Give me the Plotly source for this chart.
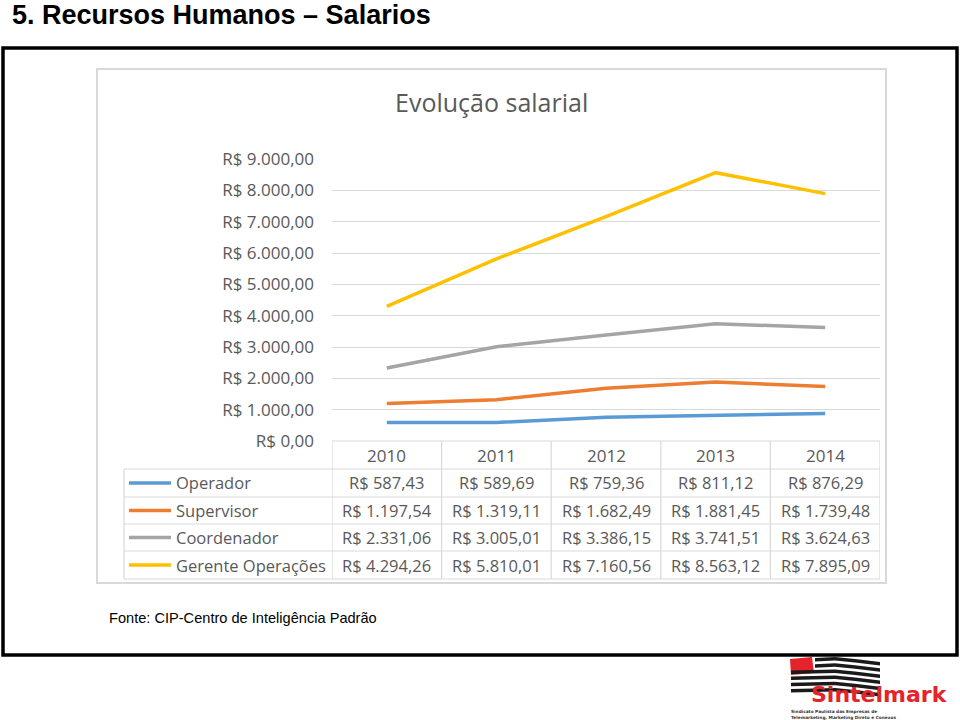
import plotly.graph_objects as go

# ---------------- data ----------------
years = ["2010", "2011", "2012", "2013", "2014"]
series_names = ["Operador", "Supervisor", "Coordenador", "Gerente Operações"]
operador = [587.43, 589.69, 759.36, 811.12, 876.29]
supervisor = [1197.54, 1319.11, 1682.49, 1881.45, 1739.48]
coordenador = [2331.06, 3005.01, 3386.15, 3741.51, 3624.63]
gerente = [4294.26, 5810.01, 7160.56, 8563.12, 7895.09]
series_values = [operador, supervisor, coordenador, gerente]
series_colors = ["#5B9BD5", "#ED7D31", "#A5A5A5", "#FFC000"]
y_ticks = [0, 1000, 2000, 3000, 4000, 5000, 6000, 7000, 8000, 9000]

W, H = 960, 720


def px(x):
    return x / W


def py(y):
    return 1 - y / H


def brl(v):
    s = f"{v:,.2f}"
    s = s.replace(",", "X").replace(".", ",").replace("X", ".")
    return "R$ " + s


GRAY_TXT = "#595959"
GRID = "#d9d9d9"
FONT = "Open Sans"

fig = go.Figure()
for name, vals, col in zip(series_names, series_values, series_colors):
    fig.add_trace(go.Scatter(x=years, y=vals, mode="lines", name=name,
                             line=dict(color=col, width=3.5),
                             showlegend=False, hoverinfo="skip"))

plot_left, plot_right = 332, 880
plot_top, plot_bottom = 159, 441

fig.update_layout(
    template="none",
    width=W, height=H, autosize=False,
    margin=dict(l=0, r=0, t=0, b=0, pad=0, autoexpand=False),
    paper_bgcolor="white", plot_bgcolor="white",
    xaxis=dict(domain=[px(plot_left), px(plot_right)], type="category",
               range=[-0.5, 4.5], showticklabels=False, showgrid=False,
               zeroline=False, showline=False, fixedrange=True, automargin=False),
    yaxis=dict(domain=[py(plot_bottom), py(plot_top)], range=[0, 9000],
               tickvals=y_ticks, ticktext=[brl(v) for v in y_ticks],
               showgrid=True, gridcolor=GRID, gridwidth=1,
               zeroline=False, showline=False, ticks="",
               ticklabelstandoff=17, automargin=False,
               tickfont=dict(family=FONT, size=17, color=GRAY_TXT),
               fixedrange=True),
)

shapes = []
annotations = []

# outer black frame
shapes.append(dict(type="rect", xref="paper", yref="paper",
                   x0=px(3), x1=px(957), y0=py(655), y1=py(48),
                   line=dict(color="black", width=3.5), fillcolor="rgba(0,0,0,0)"))
# chart area border
shapes.append(dict(type="rect", xref="paper", yref="paper",
                   x0=px(97), x1=px(886), y0=py(583), y1=py(69),
                   line=dict(color=GRID, width=2), fillcolor="rgba(0,0,0,0)", layer="below"))

# ---------------- data table ----------------
row_edges = [441, 469, 497, 524, 551, 579]
table_left = 124
for i, yy in enumerate(row_edges):
    x0 = plot_left if i == 0 else table_left
    shapes.append(dict(type="line", xref="paper", yref="paper",
                       x0=px(x0), x1=px(plot_right), y0=py(yy), y1=py(yy),
                       line=dict(color=GRID, width=1.2)))
for k in range(len(years) + 1):
    shapes.append(dict(type="line", xref="x", yref="paper",
                       x0=k - 0.5, x1=k - 0.5, y0=py(row_edges[0]), y1=py(row_edges[-1]),
                       line=dict(color=GRID, width=1.2)))
shapes.append(dict(type="line", xref="paper", yref="paper",
                   x0=px(table_left), x1=px(table_left), y0=py(row_edges[1]), y1=py(row_edges[-1]),
                   line=dict(color=GRID, width=1.2)))

CELL = 16.5
# header years
for i, yr in enumerate(years):
    annotations.append(dict(x=i, y=py((row_edges[0] + row_edges[1]) / 2), xref="x", yref="paper",
                            text=yr, showarrow=False, xanchor="center", yanchor="middle",
                            font=dict(family=FONT, size=17, color=GRAY_TXT)))
# rows
for r, (name, vals, col) in enumerate(zip(series_names, series_values, series_colors)):
    yc = (row_edges[r + 1] + row_edges[r + 2]) / 2
    shapes.append(dict(type="line", xref="paper", yref="paper",
                       x0=px(129), x1=px(171), y0=py(yc), y1=py(yc),
                       line=dict(color=col, width=3.5)))
    annotations.append(dict(x=px(174), y=py(yc), xref="paper", yref="paper",
                            text=name, showarrow=False, xanchor="left", yanchor="middle",
                            font=dict(family=FONT, size=CELL, color=GRAY_TXT)))
    for i, v in enumerate(vals):
        annotations.append(dict(x=i, y=py(yc), xref="x", yref="paper",
                                text=brl(v), showarrow=False, xanchor="center", yanchor="middle",
                                font=dict(family=FONT, size=CELL, color=GRAY_TXT)))

# chart title
annotations.append(dict(x=px(492), y=py(102), xref="paper", yref="paper",
                        text="Evolução salarial", showarrow=False,
                        xanchor="center", yanchor="middle",
                        font=dict(family=FONT, size=25, color=GRAY_TXT)))
# slide title
annotations.append(dict(x=px(10), y=py(15), xref="paper", yref="paper",
                        text="<b>5. Recursos Humanos – Salarios</b>", showarrow=False,
                        xanchor="left", yanchor="middle",
                        font=dict(family="Liberation Sans", size=27, color="black")))
# source
annotations.append(dict(x=px(107), y=py(618), xref="paper", yref="paper",
                        text="Fonte: CIP-Centro de Inteligência Padrão", showarrow=False,
                        xanchor="left", yanchor="middle",
                        font=dict(family="Liberation Sans", size=14.6, color="black")))

# ---------------- logo (approximation) ----------------
def ppath(points):
    d = ""
    for j, (x, y) in enumerate(points):
        d += ("M" if j == 0 else "L") + f" {px(x):.5f} {py(y):.5f} "
    return d + "Z"


LOGO_RED = "#E4232B"
# red corner block
shapes.append(dict(type="path", xref="paper", yref="paper",
                   path=ppath([(790, 659), (812, 657), (814, 673), (791, 675)]),
                   fillcolor=LOGO_RED, line=dict(width=0)))
# black wavy stripes
for s in range(6):
    y0 = 658 + s * 6.2
    xs0 = 815 if s < 2 else 791
    pts_top = [(xs0, y0), (835, y0 - 1), (855, y0 + 1), (880, y0 + 4)]
    pts_bot = [(880, y0 + 7.5), (855, y0 + 4.5), (835, y0 + 2.5), (xs0, y0 + 3.5)]
    shapes.append(dict(type="path", xref="paper", yref="paper",
                       path=ppath(pts_top + pts_bot),
                       fillcolor="#1a1a1a", line=dict(width=0)))
annotations.append(dict(x=px(879), y=py(694), xref="paper", yref="paper",
                        text="<b>Sintelmark</b>", showarrow=False,
                        xanchor="center", yanchor="middle", borderpad=0,
                        font=dict(family="DejaVu Sans", size=22, color=LOGO_RED)))
annotations.append(dict(x=px(790), y=py(714), xref="paper", yref="paper",
                        text="<b>Sindicato Paulista das Empresas de<br>Telemarketing, Marketing Direto e Conexos</b>",
                        showarrow=False, xanchor="left", yanchor="middle", align="left",
                        borderpad=0,
                        font=dict(family="DejaVu Sans", size=4.3, color="#333333")))

fig.update_layout(shapes=shapes, annotations=annotations)
fig.write_html(
    "out.html",
    config={"displayModeBar": False, "responsive": False},
    post_script=(
        "document.documentElement.style.margin='0';document.body.style.margin='0';"
        "document.body.style.padding='0';document.body.style.overflow='hidden';"
        "var d=document.getElementById('{plot_id}');"
        "d.style.position='absolute';d.style.left='0px';d.style.top='0px';"
    ),
)
